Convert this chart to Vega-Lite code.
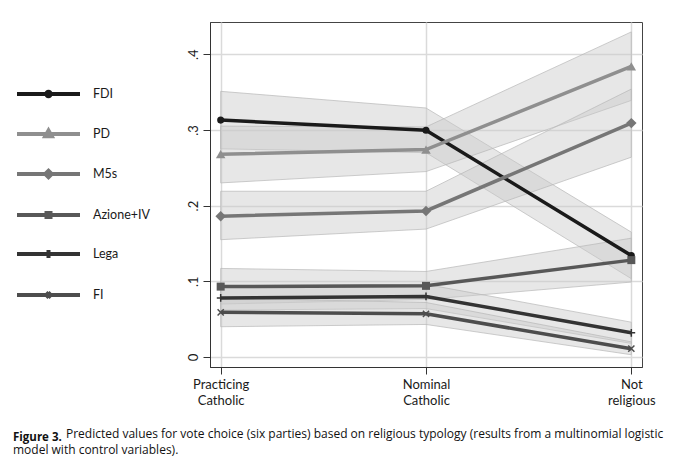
{
  "$schema": "https://vega.github.io/schema/vega-lite/v6.json",
  "autosize": "none",
  "width": 432,
  "height": 345,
  "padding": {"left": 210, "top": 22, "right": 38, "bottom": 98},
  "background": "white",
  "config": {
    "font": "Lato",
    "view": {"stroke": "#444444", "strokeWidth": 1}
  },
  "title": {
    "text": "Figure 3.",
    "subtitle": [
      "\u200b\u00a0\u00a0\u00a0\u00a0\u00a0\u00a0\u00a0\u00a0\u00a0\u00a0\u00a0\u00a0\u00a0\u00a0\u00a0\u00a0\u00a0Predicted values for vote choice (six parties) based on religious typology (results from a multinomial logistic",
      "model with control variables)."
    ],
    "orient": "bottom",
    "anchor": "start",
    "frame": "group",
    "dx": -197,
    "offset": 25,
    "font": "Open Sans",
    "fontSize": 11.5,
    "fontWeight": "bold",
    "color": "#111111",
    "subtitleFont": "Open Sans",
    "subtitleFontSize": 12,
    "subtitleColor": "#111111",
    "subtitleLineHeight": 16,
    "subtitlePadding": -15
  },
  "data": {
    "values": [
      {"party": "FDI", "religion": "Practicing Catholic", "est": 0.313, "lo": 0.275, "hi": 0.351},
      {"party": "FDI", "religion": "Nominal Catholic", "est": 0.2996, "lo": 0.270, "hi": 0.329},
      {"party": "FDI", "religion": "Not religious", "est": 0.134, "lo": 0.1035, "hi": 0.165},
      {"party": "PD", "religion": "Practicing Catholic", "est": 0.268, "lo": 0.230, "hi": 0.305},
      {"party": "PD", "religion": "Nominal Catholic", "est": 0.274, "lo": 0.245, "hi": 0.304},
      {"party": "PD", "religion": "Not religious", "est": 0.384, "lo": 0.339, "hi": 0.4295},
      {"party": "M5s", "religion": "Practicing Catholic", "est": 0.186, "lo": 0.155, "hi": 0.219},
      {"party": "M5s", "religion": "Nominal Catholic", "est": 0.193, "lo": 0.169, "hi": 0.219},
      {"party": "M5s", "religion": "Not religious", "est": 0.309, "lo": 0.264, "hi": 0.354},
      {"party": "Azione+IV", "religion": "Practicing Catholic", "est": 0.093, "lo": 0.070, "hi": 0.117},
      {"party": "Azione+IV", "religion": "Nominal Catholic", "est": 0.094, "lo": 0.076, "hi": 0.113},
      {"party": "Azione+IV", "religion": "Not religious", "est": 0.128, "lo": 0.099, "hi": 0.157},
      {"party": "Lega", "religion": "Practicing Catholic", "est": 0.078, "lo": 0.062, "hi": 0.094},
      {"party": "Lega", "religion": "Nominal Catholic", "est": 0.080, "lo": 0.064, "hi": 0.096},
      {"party": "Lega", "religion": "Not religious", "est": 0.032, "lo": 0.018, "hi": 0.046},
      {"party": "FI", "religion": "Practicing Catholic", "est": 0.059, "lo": 0.040, "hi": 0.078},
      {"party": "FI", "religion": "Nominal Catholic", "est": 0.057, "lo": 0.043, "hi": 0.072},
      {"party": "FI", "religion": "Not religious", "est": 0.011, "lo": 0.003, "hi": 0.020}
    ]
  },
  "encoding": {
    "x": {
      "field": "religion",
      "type": "nominal",
      "sort": ["Practicing Catholic", "Nominal Catholic", "Not religious"],
      "scale": {"type": "point", "padding": 0.052},
      "axis": {
        "title": null,
        "labelAngle": 0,
        "labelExpr": "split(datum.label, ' ')",
        "labelFontSize": 13,
        "labelLineHeight": 16,
        "labelColor": "#1a1a1a",
        "labelPadding": 4,
        "tickSize": 7,
        "tickColor": "#333333",
        "domainColor": "#333333",
        "grid": true,
        "gridColor": "#dadada",
        "gridWidth": 1.5
      }
    },
    "y": {
      "field": "est",
      "type": "quantitative",
      "scale": {"domain": [-0.0132, 0.4426], "nice": false, "zero": false},
      "axis": {
        "title": null,
        "values": [0, 0.1, 0.2, 0.3, 0.4],
        "labelExpr": "datum.value == 0 ? '0' : replace(format(datum.value, '.1f'), '0.', '.')",
        "labelAngle": -90,
        "labelFontSize": 13,
        "labelColor": "#1a1a1a",
        "labelPadding": 3,
        "tickSize": 7,
        "tickColor": "#333333",
        "domainColor": "#333333",
        "grid": true,
        "gridColor": "#dadada",
        "gridWidth": 1.5
      }
    },
    "color": {
      "field": "party",
      "type": "nominal",
      "scale": {
        "domain": ["FDI", "PD", "M5s", "Azione+IV", "Lega", "FI"],
        "range": ["#1a1a1a", "#8f8f8f", "#767676", "#585858", "#333333", "#4d4d4d"]
      },
      "legend": null
    }
  },
  "layer": [
    {
      "mark": {"type": "area", "fill": "#c9c9c9", "fillOpacity": 0.45, "stroke": "#b8b8b8", "strokeWidth": 1, "strokeOpacity": 0.7},
      "encoding": {
        "y": {"field": "lo", "type": "quantitative"},
        "y2": {"field": "hi"},
        "color": null,
        "detail": {"field": "party"}
      }
    },
    {
      "mark": {"type": "line", "strokeWidth": 3.5},
      "encoding": {
        "color": {
          "field": "party",
          "type": "nominal",
          "legend": {
            "title": null,
            "orient": "none",
            "legendX": -183.5,
            "legendY": 50,
            "symbolType": "stroke",
            "symbolSize": 1600,
            "symbolStrokeWidth": 4,
            "labelFontSize": 12.5,
            "labelColor": "#1a1a1a",
            "labelOffset": 22.5,
            "rowPadding": 7,
            "encode": {
              "symbols": {
                "update": {
                  "shape": {"signal": "datum.value === 'FDI' ? 'M-1.575,0H1.575M-0.11,0A0.11,0.11 0 1,0 0.11,0A0.11,0.11 0 1,0 -0.11,0Z' : datum.value === 'PD' ? 'M-1.575,0H1.575M-0.16,0.11L0.16,0.11L0,-0.17Z' : datum.value === 'M5s' ? 'M-1.575,0H1.575M-0.16,0L0,-0.16L0.16,0L0,0.16Z' : datum.value === 'Azione+IV' ? 'M-1.575,0H1.575M-0.1,-0.1H0.1V0.1H-0.1Z' : datum.value === 'Lega' ? 'M-1.575,0H1.575M0,-0.2V0.2' : 'M-1.575,0H1.575M-0.125,-0.125L0.125,0.125M-0.125,0.125L0.125,-0.125'"},
                  "fill": {"scale": "color", "field": "value"},
                  "stroke": {"scale": "color", "field": "value"},
                  "strokeWidth": {"value": 4}
                }
              }
            }
          }
        }
      }
    },
    {
      "transform": [{"filter": "datum.party === 'FDI'"}],
      "mark": {"type": "point", "shape": "circle", "filled": true, "size": 50, "opacity": 1}
    },
    {
      "transform": [{"filter": "datum.party === 'PD'"}],
      "mark": {"type": "point", "shape": "triangle-up", "filled": true, "size": 90, "opacity": 1}
    },
    {
      "transform": [{"filter": "datum.party === 'M5s'"}],
      "mark": {"type": "point", "shape": "diamond", "filled": true, "size": 110, "opacity": 1}
    },
    {
      "transform": [{"filter": "datum.party === 'Azione+IV'"}],
      "mark": {"type": "point", "shape": "square", "filled": true, "size": 64, "opacity": 1}
    },
    {
      "transform": [{"filter": "datum.party === 'Lega'"}],
      "mark": {"type": "point", "shape": "M-1,0H1M0,-1V1", "filled": false, "size": 60, "strokeWidth": 1.5, "opacity": 1}
    },
    {
      "transform": [{"filter": "datum.party === 'FI'"}],
      "mark": {"type": "point", "shape": "M-0.8,-0.8L0.8,0.8M-0.8,0.8L0.8,-0.8", "filled": false, "size": 60, "strokeWidth": 1.5, "opacity": 1}
    }
  ]
}
